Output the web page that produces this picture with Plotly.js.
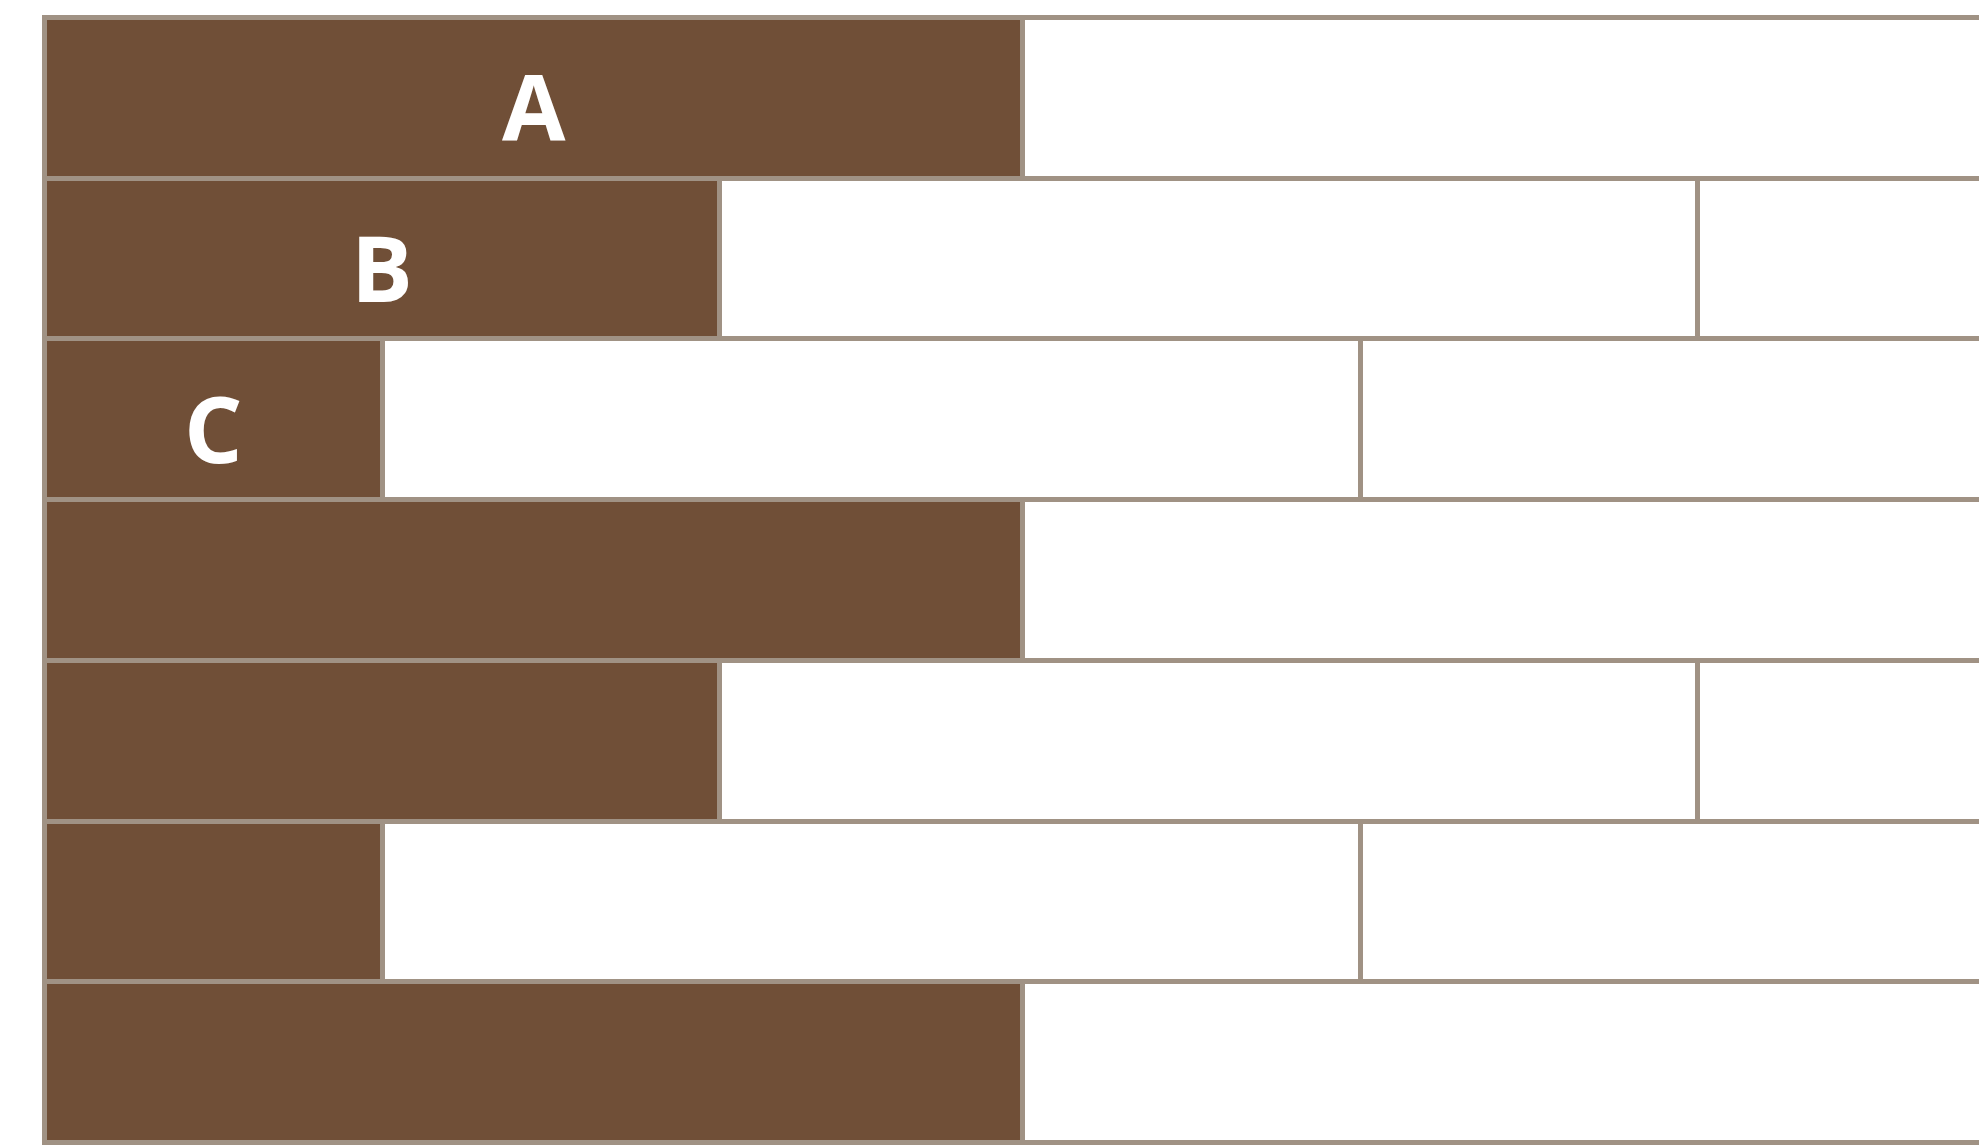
<!DOCTYPE html>
<html>
<head>
<meta charset="utf-8">
<script src="https://cdn.plot.ly/plotly-3.0.1.min.js"></script>
<style>
  html, body { margin: 0; padding: 0; background: #ffffff; }
  #chart { width: 1979px; height: 1148px; }
</style>
</head>
<body>
<div id="chart"></div>
<script>
// Rows, top to bottom
const rows = [0, 1, 2, 3, 4, 5, 6];
const rowLabels = ['A', 'B', 'C', '', '', '', ''];
// Brown (filled) segment length per row (one full brick = 10)
const filled = [10, 6.9, 3.45, 10, 6.9, 3.45, 10];
// First white brick after the filled segment
const white1 = [10, 10, 10, 10, 10, 10, 10];
// Trailing white brick (runs past the right edge)
const white2 = [0, 10, 10, 0, 10, 10, 0];

const brown = '#704f37';
const edge = 'rgb(160,146,132)';
const edgeW = 5;

const traces = [
  {
    type: 'bar', orientation: 'h', y: rows, x: filled,
    marker: { color: brown, line: { color: edge, width: edgeW } },
    hoverinfo: 'skip'
  },
  {
    type: 'bar', orientation: 'h', y: rows, x: white1,
    marker: { color: '#ffffff', line: { color: edge, width: edgeW } },
    hoverinfo: 'skip'
  },
  {
    type: 'bar', orientation: 'h', y: rows, x: white2,
    marker: { color: '#ffffff', line: { color: edge, width: edgeW } },
    hoverinfo: 'skip'
  }
];

// Labels centred on the filled segment of each labelled row
const annotations = rows
  .filter(i => rowLabels[i] !== '')
  .map(i => ({
    x: filled[i] / 2, y: rows[i], xref: 'x', yref: 'y',
    text: '<b>' + rowLabels[i] + '</b>', showarrow: false,
    yshift: -8,
    font: { family: 'Open Sans, Arial, sans-serif', size: 92, color: '#ffffff' }
  }));

const layout = {
  width: 1979, height: 1148,
  margin: { l: 40, r: 0, t: 14, b: 2, pad: 0 },
  paper_bgcolor: '#ffffff', plot_bgcolor: '#ffffff',
  barmode: 'stack', bargap: 0,
  showlegend: false,
  annotations: annotations,
  xaxis: { range: [-0.05, 19.78], showgrid: false, zeroline: false, showticklabels: false, ticks: '', showline: false, fixedrange: true },
  yaxis: { range: [6.522, -0.522], showgrid: false, zeroline: false, showticklabels: false, ticks: '', showline: false, fixedrange: true }
};

Plotly.newPlot('chart', traces, layout, { displayModeBar: false, staticPlot: true });
</script>
</body>
</html>
